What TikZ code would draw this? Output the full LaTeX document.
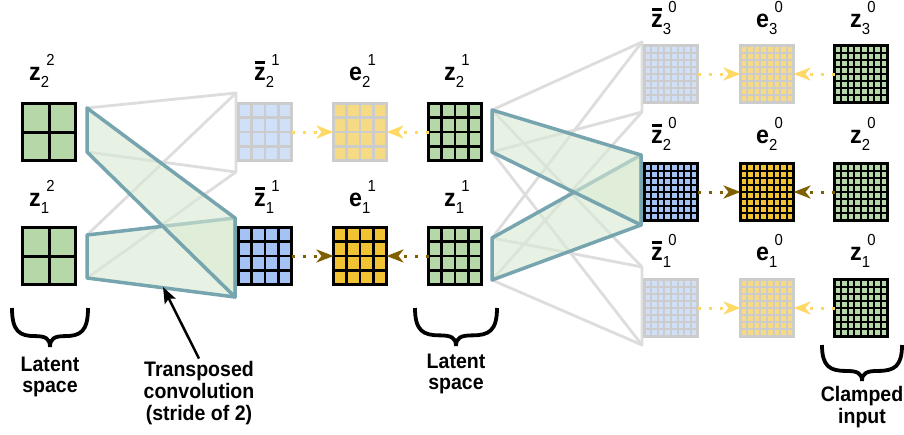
\documentclass[tikz,border=0pt]{standalone}
\usepackage{fontspec}
\setmainfont{Liberation Sans}[FakeStretch=0.93]
\usetikzlibrary{calc,arrows.meta}
\definecolor{cgreen}{HTML}{B6D7A8}
\definecolor{cblue}{HTML}{A4C2F4}
\definecolor{cyellow}{HTML}{F1C232}
\definecolor{fblue}{HTML}{D1E0F9}
\definecolor{fyellow}{HTML}{F7DA84}
\definecolor{fline}{HTML}{CCCCCC}
\definecolor{tealline}{HTML}{76A5AF}
\definecolor{tealfill}{HTML}{D9EAD3}
\definecolor{conn}{HTML}{DDDDDD}
\definecolor{darkarr}{HTML}{7F6000}
\definecolor{lightarr}{HTML}{FFD966}
\tikzset{
  sqbox/.style={minimum width=53pt, minimum height=57pt, inner sep=0pt, outer sep=0pt, line width=3pt},
  lbl/.style={anchor=base west, inner sep=0pt, font=\fontsize{25}{25}\selectfont\bfseries},
  txt/.style={anchor=base, inner sep=0pt, font=\fontsize{21}{22}\selectfont\bfseries},
  grayconn/.style={conn, line width=2.8pt, line join=round},
  tealpoly/.style={draw=tealline, fill=tealfill, fill opacity=0.6, draw opacity=1, line width=3.5pt, line join=round},
  dotarr/.style={line width=3pt, dash pattern=on 3pt off 8pt, -{Stealth[length=17pt, width=13pt, inset=5pt]}},
  bracestyle/.style={line width=3.8pt, black},
}
\newcommand{\gsq}[7]{%
  \node[sqbox, fill=#5, draw=#6] (#1) at (#2,#3) {};
  \foreach \k in {1,...,#4}{
    \draw[#6, line width=#7] ($(#1.north west)!{\k/(#4+1)}!(#1.north east)$) -- ($(#1.south west)!{\k/(#4+1)}!(#1.south east)$);
    \draw[#6, line width=#7] ($(#1.north west)!{\k/(#4+1)}!(#1.south west)$) -- ($(#1.north east)!{\k/(#4+1)}!(#1.south east)$);
  }
  \draw[#6, line width=3pt] (#1.north west) rectangle (#1.south east);
}
\newcommand{\lab}[3]{#1\raisebox{-7.5pt}{\fontsize{16}{16}\selectfont\mdseries #2}\hspace{-2.8pt}\raisebox{15pt}{\fontsize{16}{16}\selectfont\mdseries #3}}
\newcommand{\zb}{\rlap{\hspace{1pt}\rule[16pt]{10pt}{2.6pt}}z}
\newcommand{\brc}[4]{% x0, x1, ytop, ytip
  \draw[bracestyle] (#1,#3) .. controls (#1,{#3+0.6*(#4-#3)}) and ({#1+0.1*(#2-#1)},{#3+0.72*(#4-#3)}) .. ({#1+0.3*(#2-#1)},{#3+0.72*(#4-#3)})
    .. controls ({#1+0.44*(#2-#1)},{#3+0.72*(#4-#3)}) and ({0.5*(#1+#2)},{#3+0.78*(#4-#3)}) .. ({0.5*(#1+#2)},#4)
    .. controls ({0.5*(#1+#2)},{#3+0.78*(#4-#3)}) and ({#1+0.56*(#2-#1)},{#3+0.72*(#4-#3)}) .. ({#1+0.7*(#2-#1)},{#3+0.72*(#4-#3)})
    .. controls ({#1+0.9*(#2-#1)},{#3+0.72*(#4-#3)}) and (#2,{#3+0.6*(#4-#3)}) .. (#2,#3);
}
\begin{document}
\begin{tikzpicture}[x=1pt,y=-1pt]
\useasboundingbox (0,0) rectangle (904,434);
\fill[white] (0,0) rectangle (904,434);
% connector end points
\coordinate (a2t) at (87,108); \coordinate (a2b) at (87,152);
\coordinate (a1t) at (87,235); \coordinate (a1b) at (87,278);
\coordinate (b2t) at (236,93); \coordinate (b2b) at (236,172);
\coordinate (b1t) at (235,218); \coordinate (b1b) at (235,297);
\coordinate (d2t) at (492,110); \coordinate (d2b) at (492,152);
\coordinate (d1t) at (492,238); \coordinate (d1b) at (492,280);
\coordinate (e3t) at (642,42); \coordinate (e3b) at (642,112);
\coordinate (e2t) at (641,155); \coordinate (e2b) at (641,225);
\coordinate (e1t) at (642,267); \coordinate (e1b) at (642,345);
% gray connectors
\draw[grayconn] (a2t) -- (b2t) -- (b2b) -- (a2b);
\draw[grayconn] (a1t) -- (b2t);
\draw[grayconn] (a1b) -- (b2b);
\draw[grayconn] (d2t) -- (e3t) -- (e3b) -- (d2b);
\draw[grayconn] (d1t) -- (e3t);
\draw[grayconn] (d1b) -- (e3b);
\draw[grayconn] (d1t) -- (e1t) -- (e1b) -- (d1b);
\draw[grayconn] (d2t) -- (e1t);
\draw[grayconn] (d2b) -- (e1b);
% teal receptive fields
\draw[tealpoly] (a1t) -- (b1t) -- (b1b) -- (a1b) -- cycle;
\draw[tealpoly] (a2t) -- (b1t) -- (b1b) -- (a2b) -- cycle;
\draw[tealpoly] (d1t) -- (e2t) -- (e2b) -- (d1b) -- cycle;
\draw[tealpoly] (d2t) -- (e2t) -- (e2b) -- (d2b) -- cycle;
% squares
\gsq{zA2}{49}{132}{1}{cgreen}{black}{3pt}
\gsq{zA1}{49}{256}{1}{cgreen}{black}{3pt}
\gsq{zB2}{265}{132}{3}{fblue}{fline}{2.6pt}
\gsq{zB1}{265}{256}{3}{cblue}{black}{2.7pt}
\gsq{eC2}{360}{132}{3}{fyellow}{fline}{2.6pt}
\gsq{eC1}{360}{256}{3}{cyellow}{black}{2.7pt}
\gsq{zD2}{455}{132}{3}{cgreen}{black}{2.7pt}
\gsq{zD1}{455}{256}{3}{cgreen}{black}{2.7pt}
\gsq{zE3}{671}{74}{7}{fblue}{fline}{1.8pt}
\gsq{zE2}{671}{192}{7}{cblue}{black}{1.8pt}
\gsq{zE1}{671}{308}{7}{fblue}{fline}{1.8pt}
\gsq{eF3}{767}{74}{7}{fyellow}{fline}{1.8pt}
\gsq{eF2}{767}{192}{7}{cyellow}{black}{1.8pt}
\gsq{eF1}{767}{308}{7}{fyellow}{fline}{1.8pt}
\gsq{zG3}{861}{74}{7}{cgreen}{black}{1.8pt}
\gsq{zG2}{861}{192}{7}{cgreen}{black}{1.8pt}
\gsq{zG1}{861}{308}{7}{cgreen}{black}{1.8pt}
% dotted error arrows
\draw[dotarr, lightarr] (zB2.east) -- (eC2.west);
\draw[dotarr, lightarr] (zD2.west) -- (eC2.east);
\draw[dotarr, darkarr] (zB1.east) -- (eC1.west);
\draw[dotarr, darkarr] (zD1.west) -- (eC1.east);
\draw[dotarr, lightarr] (zE3.east) -- (eF3.west);
\draw[dotarr, lightarr] (zG3.west) -- (eF3.east);
\draw[dotarr, darkarr] (zE2.east) -- (eF2.west);
\draw[dotarr, darkarr] (zG2.west) -- (eF2.east);
\draw[dotarr, lightarr] (zE1.east) -- (eF1.west);
\draw[dotarr, lightarr] (zG1.west) -- (eF1.east);
% labels
\node[lbl] (lA2) at (29,80) {\lab{z}{2}{2}};
\node[lbl] (lA1) at (29,206) {\lab{z}{1}{2}};
\node[lbl] (lB2) at (254,80) {\lab{\zb}{2}{1}};
\node[lbl] (lB1) at (254,206) {\lab{\zb}{1}{1}};
\node[lbl] (lC2) at (349,80) {\lab{e}{2}{1}};
\node[lbl] (lC1) at (349,206) {\lab{e}{1}{1}};
\node[lbl] (lD2) at (444,80) {\lab{z}{2}{1}};
\node[lbl] (lD1) at (444,206) {\lab{z}{1}{1}};
\node[lbl] (lE3) at (651,27) {\lab{\zb}{3}{0}};
\node[lbl] (lE2) at (651,143) {\lab{\zb}{2}{0}};
\node[lbl] (lE1) at (651,260) {\lab{\zb}{1}{0}};
\node[lbl] (lF3) at (756,27) {\lab{e}{3}{0}};
\node[lbl] (lF2) at (756,143) {\lab{e}{2}{0}};
\node[lbl] (lF1) at (756,260) {\lab{e}{1}{0}};
\node[lbl] (lG3) at (850,27) {\lab{z}{3}{0}};
\node[lbl] (lG2) at (850,143) {\lab{z}{2}{0}};
\node[lbl] (lG1) at (850,260) {\lab{z}{1}{0}};
% braces
\brc{12}{88}{308}{347}
\brc{415}{497}{308}{346}
\brc{822}{902}{345}{381}
% texts
\node[txt] (t1a) at (50,371) {Latent};
\node[txt] (t1b) at (50,392) {space};
\node[txt] (t2a) at (456,368) {Latent};
\node[txt] (t2b) at (456,389) {space};
\node[txt, inner sep=2pt] (tc1) at (199,376) {Transposed};
\node[txt] (tc2) at (199,398) {convolution};
\node[txt] (tc3) at (199,420) {(stride of 2)};
\node[txt] (t3a) at (862,401) {Clamped};
\node[txt] (t3b) at (862,423) {input};
% pointer
\coordinate (ptip) at (163,287);
\draw[line width=2.5pt, -{Stealth[length=16pt, width=12pt, inset=3pt]}] (tc1.north) -- (ptip);
\end{tikzpicture}
\end{document}
